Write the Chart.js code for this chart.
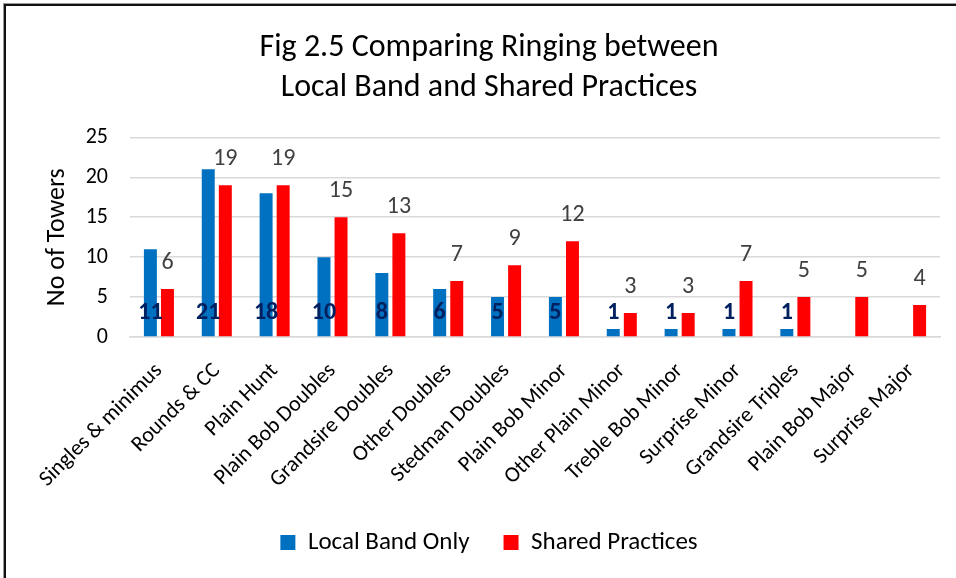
<!DOCTYPE html>
<html>
<head>
<meta charset="utf-8">
<script src="https://cdn.jsdelivr.net/npm/chart.js@4.4.1/dist/chart.umd.min.js"></script>
<style>
  html, body { margin: 0; padding: 0; background: #fff; }
  #wrap { position: relative; width: 956px; height: 578px; overflow: hidden; }
  #c { position: absolute; left: 0; top: 0; }
  #frame { position: absolute; left: 4px; top: 4px; width: 960px; height: 580px;
           border-top: 2px solid #111; border-left: 2px solid #111; pointer-events: none;
           box-shadow: -1px -1px 0 #999; }
</style>
</head>
<body>
<div id="wrap">
  <canvas id="c" width="956" height="578"></canvas>
  <div id="frame"></div>
</div>
<script>
const categories = ["Singles & minimus", "Rounds & CC", "Plain Hunt", "Plain Bob Doubles",
  "Grandsire Doubles", "Other Doubles", "Stedman Doubles", "Plain Bob Minor",
  "Other Plain Minor", "Treble Bob Minor", "Surprise Minor", "Grandsire Triples",
  "Plain Bob Major", "Surprise Major"];
const localBandOnly = [11, 21, 18, 10, 8, 6, 5, 5, 1, 1, 1, 1, 0, 0];
const sharedPractices = [6, 19, 19, 15, 13, 7, 9, 12, 3, 3, 7, 5, 5, 4];
const yTicks = [0, 5, 10, 15, 20, 25];
const titleLines = ["Fig 2.5 Comparing Ringing between", "Local Band and Shared Practices"];
const seriesNames = ["Local Band Only", "Shared Practices"];

const FONT = "Carlito, Calibri, Lato, sans-serif";

const labelPlugin = {
  id: 'barLabels',
  afterDatasetsDraw(chart) {
    const ctx = chart.ctx;
    const yScale = chart.scales.y;
    const base = yScale.getPixelForValue(0);
    ctx.save();
    ctx.textAlign = 'center';
    ctx.textBaseline = 'middle';
    const m0 = chart.getDatasetMeta(0);
    ctx.font = 'bold 24px ' + FONT;
    ctx.fillStyle = '#002060';
    m0.data.forEach((bar, i) => {
      const v = localBandOnly[i];
      if (!v) return;
      ctx.fillText(String(v), bar.x, base - 24);
    });
    const m1 = chart.getDatasetMeta(1);
    ctx.font = '24px ' + FONT;
    ctx.fillStyle = '#404040';
    m1.data.forEach((bar, i) => {
      const v = sharedPractices[i];
      ctx.fillText(String(v), bar.x, bar.y - 26);
    });
    ctx.restore();
  }
};

new Chart(document.getElementById('c'), {
  type: 'bar',
  data: {
    labels: categories,
    datasets: [
      { label: seriesNames[0], data: localBandOnly, backgroundColor: '#0070C0',
        categoryPercentage: 0.59, barPercentage: 0.76 },
      { label: seriesNames[1], data: sharedPractices, backgroundColor: '#FF0000',
        categoryPercentage: 0.59, barPercentage: 0.76 }
    ]
  },
  plugins: [labelPlugin],
  options: {
    responsive: false,
    animation: false,
    devicePixelRatio: 1,
    layout: { padding: { top: 28, left: 38, right: 16, bottom: 13 } },
    plugins: {
      title: {
        display: true,
        text: titleLines,
        color: '#000',
        font: { family: FONT, size: 32, weight: 'normal', lineHeight: 1.24 },
        padding: { top: 0, bottom: 30 }
      },
      legend: {
        position: 'bottom',
        labels: {
          color: '#000',
          font: { family: FONT, size: 25 },
          boxWidth: 15, boxHeight: 15,
          padding: 34
        }
      },
      tooltip: { enabled: false }
    },
    scales: {
      x: {
        grid: { display: false },
        border: { display: true, color: '#d9d9d9', width: 1.5 },
        ticks: {
          color: '#000',
          font: { family: FONT, size: 22 },
          maxRotation: 45, minRotation: 45,
          autoSkip: false,
          padding: 13
        },
        afterFit(scale) { scale.height = 159; }
      },
      y: {
        min: 0, max: 25,
        afterBuildTicks(scale) { scale.ticks = yTicks.map(v => ({ value: v })); },
        grid: { color: '#d9d9d9', lineWidth: 1.5, drawTicks: false },
        border: { display: false },
        ticks: {
          color: '#000',
          font: { family: FONT, size: 22 },
          padding: 22
        },
        title: {
          display: true,
          text: 'No of Towers',
          color: '#000',
          font: { family: FONT, size: 26 },
          padding: { top: 4, bottom: 0 }
        },
        afterFit(scale) { scale.width = 92; }
      }
    }
  }
});
</script>
</body>
</html>
